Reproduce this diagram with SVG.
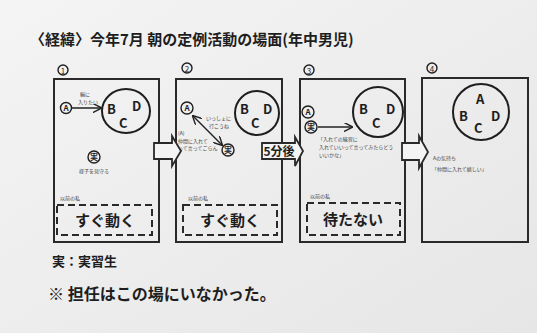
<svg xmlns="http://www.w3.org/2000/svg" width="537" height="333" viewBox="0 0 537 333">
<defs>
<linearGradient id="bg" x1="0" y1="0" x2="1" y2="1">
<stop offset="0" stop-color="#f4f4f4"/>
<stop offset="1" stop-color="#e6e6e6"/>
</linearGradient>
<marker id="ah" viewBox="0 0 10 10" refX="9" refY="5" markerWidth="6" markerHeight="6" orient="auto-start-reverse">
<path d="M0,0 L10,5 L0,10" fill="none" stroke="#222" stroke-width="1.6"/>
</marker>
</defs>
<style>
text{font-family:"Noto Sans CJK JP","Noto Sans",sans-serif;fill:#1e1e1e}
.panel{fill:none;stroke:#2a2a2a;stroke-width:2}
.ring{fill:none;stroke:#1e1e1e;stroke-width:2}
.dash{fill:none;stroke:#2a2a2a;stroke-width:2;stroke-dasharray:7 4}
.small{fill:none;stroke:#1e1e1e;stroke-width:1.4}
.big{font-size:15px;font-weight:bold}
.tiny{font-size:5px;fill:#444}
.let{font-size:13px;font-weight:bold}
.blk{fill:#f4f4f4;stroke:#2a2a2a;stroke-width:1.8}
.line{fill:none;stroke:#222;stroke-width:1.5}
</style>
<rect width="537" height="333" fill="url(#bg)"/>
<text x="30" y="45" font-size="15" font-weight="bold">〈経緯〉今年7月 朝の定例活動の場面(年中男児)</text>

<g id="panel1">
<circle cx="63" cy="70" r="5" class="small"/><text x="63" y="73.5" font-size="8" text-anchor="middle">1</text>
<rect x="54" y="79" width="105" height="163" class="panel"/>
<ellipse cx="126" cy="111" rx="24" ry="22" class="ring"/>
<text x="107" y="114" class="let">B</text><text x="119" y="128" class="let">C</text><text x="132" y="111" class="let">D</text>
<circle cx="66" cy="108" r="5.5" class="small"/><text x="66" y="111" font-size="8" text-anchor="middle" font-weight="bold">A</text>
<text x="80" y="96" class="tiny">輪に</text><text x="78" y="104" class="tiny">入りたい</text>
<circle cx="94" cy="157" r="6" class="small"/><text x="94" y="160" font-size="8" text-anchor="middle" font-weight="bold">実</text>
<text x="94" y="173" class="tiny" text-anchor="middle" font-size="6.5">様子を見守る</text>
<text x="60" y="200" class="tiny" font-size="6">以前の私</text>
<rect x="57" y="205" width="95" height="30" class="dash"/>
<text x="105" y="226" class="big" text-anchor="middle">すぐ動く</text>
</g>

<g id="panel2">
<circle cx="187" cy="68" r="5" class="small"/><text x="187" y="71.5" font-size="8" text-anchor="middle">2</text>
<rect x="176" y="79" width="106" height="163" class="panel"/>
<ellipse cx="257" cy="113" rx="22" ry="22" class="ring"/>
<text x="240" y="114" class="let">B</text><text x="251" y="128" class="let">C</text><text x="263" y="114" class="let">D</text>
<circle cx="187" cy="108" r="6" class="small"/><text x="187" y="111" font-size="8" text-anchor="middle" font-weight="bold">A</text>
<circle cx="228" cy="150" r="6" class="small"/><text x="228" y="153" font-size="8" text-anchor="middle" font-weight="bold">実</text>
<text x="206" y="120" class="tiny">いっしょに</text><text x="209" y="128" class="tiny">行こうね</text>
<text x="178" y="135" class="tiny">(A)</text><text x="178" y="142.5" class="tiny">仲間に入れて</text><text x="178" y="150" class="tiny">って言ってごらん</text>
<text x="188" y="200" class="tiny" font-size="6">以前の私</text>
<rect x="183" y="205" width="94" height="30" class="dash"/>
<text x="230" y="226" class="big" text-anchor="middle">すぐ動く</text>
</g>

<g id="panel3">
<circle cx="309" cy="70" r="5" class="small"/><text x="309" y="73.5" font-size="8" text-anchor="middle">3</text>
<rect x="300" y="79" width="105" height="163" class="panel"/>
<ellipse cx="378" cy="112" rx="25" ry="25" class="ring"/>
<text x="359" y="114" class="let">B</text><text x="372" y="128" class="let">C</text><text x="386" y="114" class="let">D</text>
<circle cx="308" cy="112" r="6" class="small"/><text x="308" y="115" font-size="8" text-anchor="middle" font-weight="bold">A</text>
<circle cx="311" cy="127" r="6" class="small"/><text x="311" y="130" font-size="8" text-anchor="middle" font-weight="bold">実</text>
<text x="318" y="141" class="tiny" font-size="5.5">「入れての練習に</text><text x="319" y="149" class="tiny" font-size="5.5">入れていいって言ってみたらどう</text><text x="319" y="157" class="tiny" font-size="5.5">いいかな」</text>
<text x="310" y="198" class="tiny" font-size="6">以前の私</text>
<rect x="307" y="203" width="93" height="32" class="dash"/>
<text x="353" y="225" class="big" text-anchor="middle">待たない</text>
</g>

<g id="panel4">
<circle cx="432" cy="68" r="5" class="small"/><text x="432" y="71.5" font-size="8" text-anchor="middle">4</text>
<rect x="422" y="78" width="106" height="164" class="panel"/>
<ellipse cx="481" cy="112" rx="28" ry="28" class="ring"/>
<text x="476" y="104" class="let">A</text><text x="459" y="121" class="let">B</text><text x="474" y="133" class="let">C</text><text x="491" y="121" class="let">D</text>
<text x="433" y="160" class="tiny" font-size="7">Aの気持ち</text>
<text x="432" y="171" class="tiny" font-size="7">「仲間に入れて嬉しい」</text>
</g>

<g id="connectors">
<line x1="72" y1="108" x2="101" y2="108" class="line" marker-end="url(#ah)"/>
<line x1="193" y1="116" x2="222" y2="145" class="line" marker-start="url(#ah)" marker-end="url(#ah)"/>
<line x1="318" y1="127" x2="352" y2="127" class="line" marker-end="url(#ah)"/>
<path d="M154,143 L172,143 L172,136 L181,151 L172,166 L172,159 L154,159 Z" class="blk"/>
<path d="M262,143 L295,143 L295,137 L303,151 L295,166 L295,159 L262,159 Z" class="blk"/>
<text x="279" y="156" font-size="12" font-weight="bold" text-anchor="middle">5分後</text>
<path d="M402,143 L419,143 L419,136 L428,152 L419,168 L419,160 L402,160 Z" class="blk"/>
</g>

<text x="52" y="266" font-size="13" font-weight="bold">実：実習生</text>
<text x="48" y="300" font-size="16" font-weight="bold">※ 担任はこの場にいなかった。</text>
</svg>
